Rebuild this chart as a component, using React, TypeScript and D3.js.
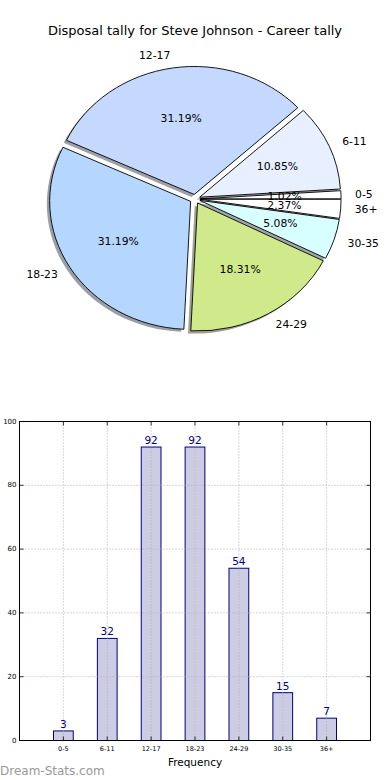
import React from "react";
import * as d3 from "d3";

const ranges = ["0-5", "6-11", "12-17", "18-23", "24-29", "30-35", "36+"];
const counts = [3, 32, 92, 92, 54, 15, 7];
const sliceColors = ["#ffffff", "#e8f0ff", "#c5d9ff", "#b5d6ff", "#d0e98b", "#d8ffff", "#ffffff"];
const yTicks = [0, 20, 40, 60, 80, 100];

const title = "Disposal tally for Steve Johnson - Career tally";
const font = "DejaVu Sans, sans-serif";

const Pie = ({ cx, cy, rx, ry }) => {
  const total = d3.sum(counts);
  // matplotlib style: start at 3 o'clock, counter-clockwise
  const slices = d3.pie<number>()
    .sort(null)
    .startAngle(Math.PI / 2)
    .endAngle(Math.PI / 2 - 2 * Math.PI)(counts);
  const arc = d3.arc().innerRadius(0).outerRadius(1);
  const explode = 0.036;

  const items = slices.map((s, i) => {
    const mid = (s.startAngle + s.endAngle) / 2;
    const ux = Math.sin(mid);
    const uy = -Math.cos(mid);
    const ox = cx + explode * rx * ux;
    const oy = cy + explode * ry * uy;
    return { s, i, ux, uy, ox, oy, d: arc({ startAngle: s.startAngle, endAngle: s.endAngle } as any) };
  });

  const shade = (c) => {
    const col = d3.rgb(c);
    return d3.rgb(col.r * 0.3, col.g * 0.3, col.b * 0.3).toString();
  };

  return (
    <g>
      {items.map(it => (
        <path key={"sh" + it.i}
          d={it.d}
          transform={`translate(${it.ox - 0.02 * rx},${it.oy + 0.02 * ry}) scale(${rx},${ry})`}
          fill={shade(sliceColors[it.i])} fillOpacity={0.5} stroke="none" />
      ))}
      {items.map(it => (
        <path key={"w" + it.i}
          d={it.d}
          transform={`translate(${it.ox},${it.oy}) scale(${rx},${ry})`}
          fill={sliceColors[it.i]} stroke="black" strokeWidth={0.9}
          vectorEffect="non-scaling-stroke" strokeLinejoin="round" />
      ))}
      {items.map(it => (
        <text key={"l" + it.i}
          x={it.ox + 1.1 * rx * it.ux} y={it.oy + 1.1 * ry * it.uy}
          textAnchor={it.ux > 0 ? "start" : "end"} dominantBaseline="central"
          fontSize={10.8} fontFamily={font} fill="black">{ranges[it.i]}</text>
      ))}
      {items.map(it => (
        <text key={"p" + it.i}
          x={it.ox + 0.6 * rx * it.ux} y={it.oy + 0.6 * ry * it.uy}
          textAnchor="middle" dominantBaseline="central"
          fontSize={10.8} fontFamily={font} fill="black">
          {(counts[it.i] / total * 100).toFixed(2) + "%"}
        </text>
      ))}
    </g>
  );
};

const Bars = ({ left, right, top, bottom }) => {
  const x = d3.scaleLinear().domain([0, ranges.length + 1]).range([left, right]);
  const y = d3.scaleLinear().domain([0, 100]).range([bottom, top]);
  const barW = x(0.45) - x(0);

  return (
    <g fontFamily={font}>
      {counts.map((c, i) => (
        <rect key={i} x={x(i + 1) - barW / 2} y={y(c)} width={barW} height={y(0) - y(c)}
          fill="#ccccE3" stroke="#000080" strokeWidth={1} />
      ))}
      {ranges.map((r, i) => (
        <line key={"gx" + i} x1={x(i + 1)} x2={x(i + 1)} y1={top} y2={bottom}
          stroke="#b0b0b0" strokeWidth={1} strokeDasharray="1,2" />
      ))}
      {yTicks.map(t => (
        <line key={"gy" + t} x1={left} x2={right} y1={y(t)} y2={y(t)}
          stroke="#b0b0b0" strokeWidth={1} strokeDasharray="1,2" />
      ))}
      {yTicks.map(t => (
        <g key={"ty" + t}>
          <line x1={left} x2={left + 4} y1={y(t)} y2={y(t)} stroke="black" strokeWidth={0.8} />
          <line x1={right - 4} x2={right} y1={y(t)} y2={y(t)} stroke="black" strokeWidth={0.8} />
          <text x={left - 3} y={y(t)} textAnchor="end" dominantBaseline="central"
            fontSize={7} fill="black">{t}</text>
        </g>
      ))}
      {ranges.map((r, i) => (
        <g key={"tx" + i}>
          <line x1={x(i + 1)} x2={x(i + 1)} y1={bottom} y2={bottom - 4} stroke="black" strokeWidth={0.8} />
          <line x1={x(i + 1)} x2={x(i + 1)} y1={top} y2={top + 4} stroke="black" strokeWidth={0.8} />
          <text x={x(i + 1)} y={bottom + 8} textAnchor="middle" dominantBaseline="central"
            fontSize={6.5} fill="black">{r}</text>
        </g>
      ))}
      {counts.map((c, i) => (
        <text key={"v" + i} x={x(i + 1)} y={y(c) - 3} textAnchor="middle"
          fontSize={10.5} fill="#000080">{c}</text>
      ))}
      <rect x={left} y={top} width={right - left} height={bottom - top}
        fill="none" stroke="black" strokeWidth={1} />
      <text x={(left + right) / 2} y={bottom + 21} textAnchor="middle" dominantBaseline="central"
        fontSize={10.5} fill="black">Frequency</text>
    </g>
  );
};

export default function App() {
  return (
    <svg width={390} height={780} style={{ position: "absolute", left: 0, top: 0, background: "white" }}>
      <text x={195} y={30} textAnchor="middle" dominantBaseline="central"
        fontSize={13} fontFamily={font} fill="black">{title}</text>
      <Pie cx={195} cy={199} rx={141} ry={128} />
      <Bars left={19.5} right={370.5} top={421.5} bottom={740.5} />
      <text x={0} y={771} dominantBaseline="central" fontSize={12} fontFamily={font} fill="#999999">Dream-Stats.com</text>
    </svg>
  );
}
